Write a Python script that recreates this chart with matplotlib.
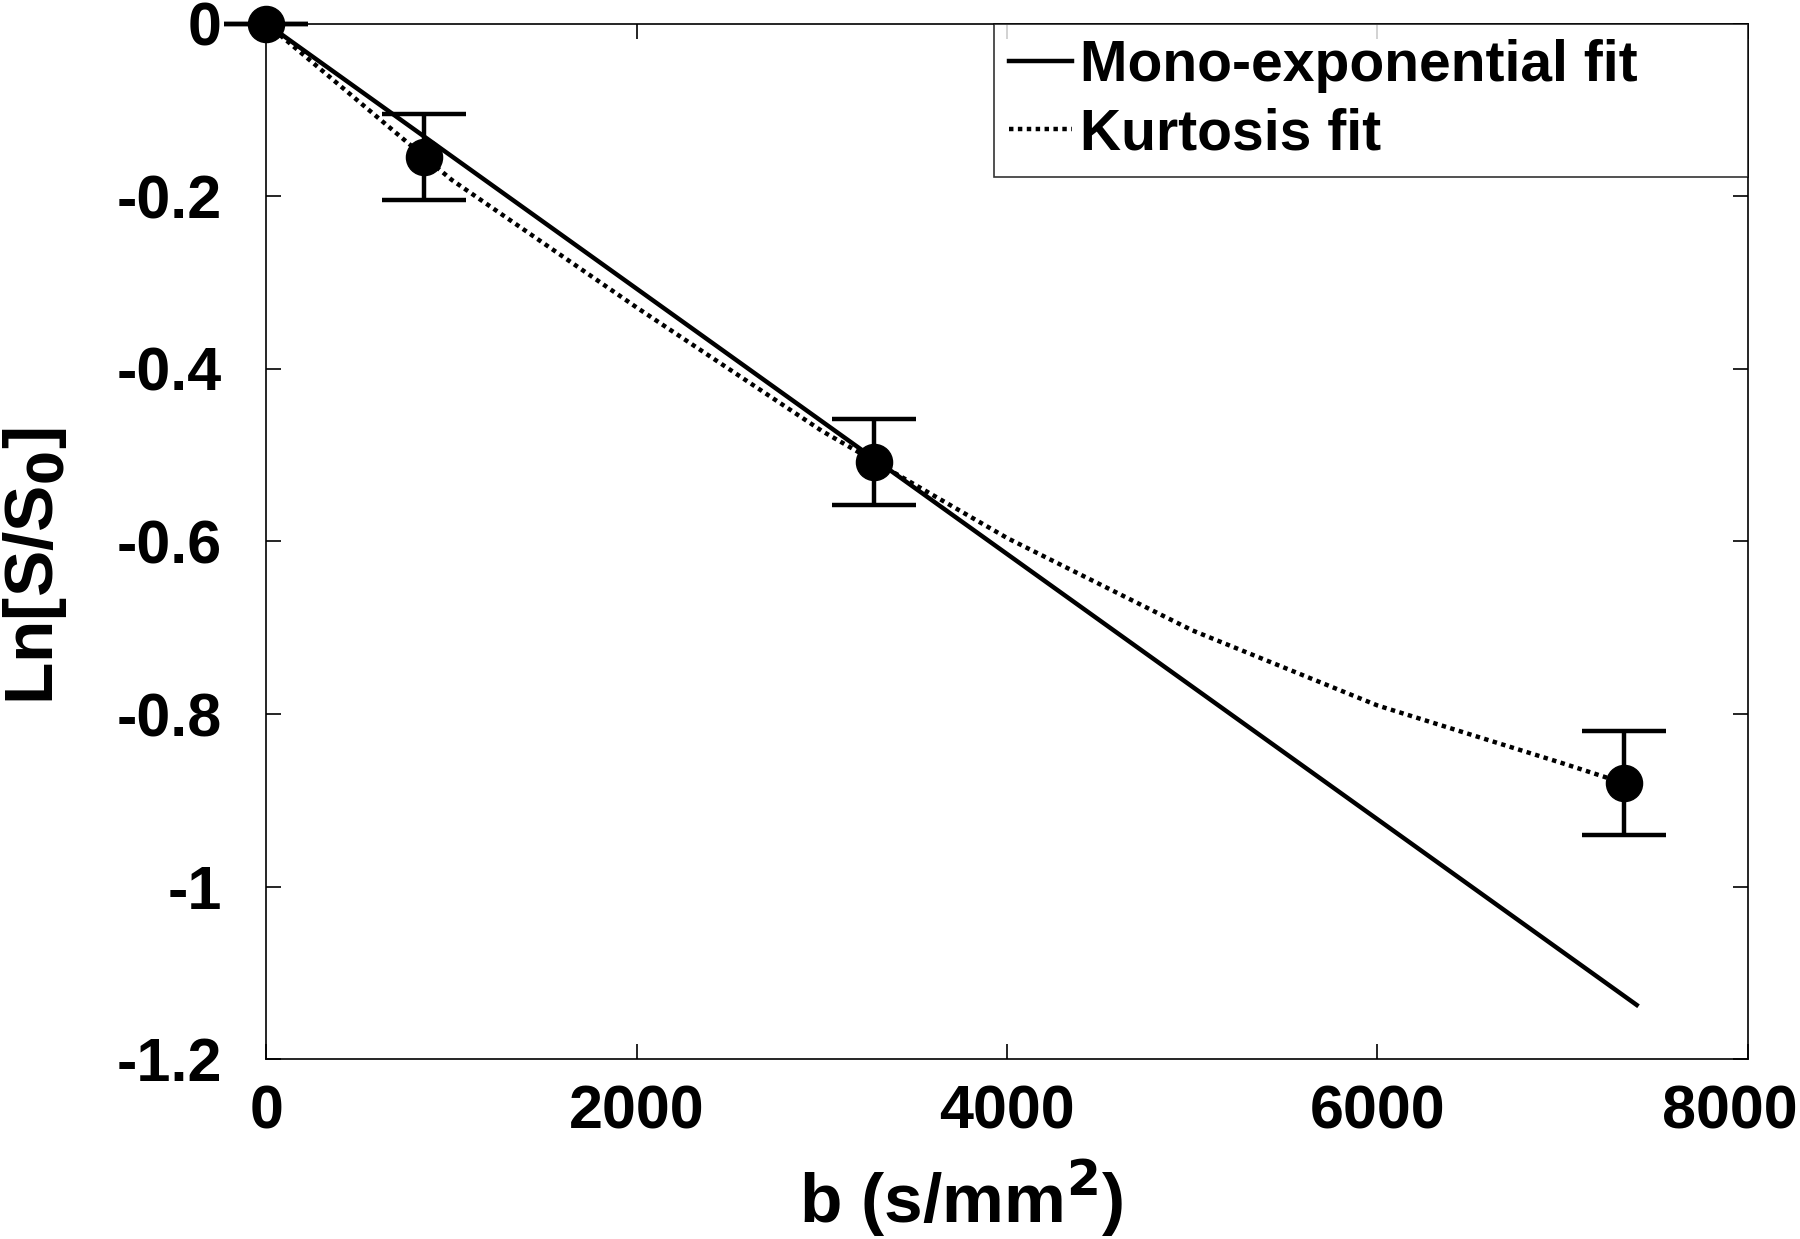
import numpy as np
import matplotlib
matplotlib.use('Agg')
import matplotlib.pyplot as plt
import matplotlib.transforms as mtransforms
from matplotlib.ticker import FixedLocator, FixedFormatter

plt.rcParams['font.family'] = ['Liberation Sans', 'DejaVu Sans']
plt.rcParams['font.weight'] = 'bold'

# measured points
b_vals = [0, 850, 3280, 7330]
ln_vals = [0.0, -0.155, -0.508, -0.880]
ln_err = [0.0, 0.05, 0.05, 0.06]

# mono-exponential fit (straight line)
mono_b = [0, 7400]
mono_y = [0.0, -1.137]

# kurtosis fit curve
kurt_b = [0, 1000, 2000, 3000, 4000, 5000, 6000, 7000, 7330]
kurt_y = [0.0, -0.181, -0.329, -0.472, -0.596, -0.703, -0.790, -0.857, -0.880]

xticks = [0, 2000, 4000, 6000, 8000]
yticks = [0, -0.2, -0.4, -0.6, -0.8, -1, -1.2]
ytick_labels = ['0', '-0.2', '-0.4', '-0.6', '-0.8', '-1', '-1.2']

fig = plt.figure(figsize=(18, 12.39), dpi=100)
ax = fig.add_axes([0.148, 0.145, 0.823, 0.836])

ax.plot(mono_b, mono_y, color='black', lw=3.2, label='Mono-exponential fit')
ax.plot(kurt_b, kurt_y, color='black', lw=3.2, linestyle=(0, (1, 1)), label='Kurtosis fit')
eb = ax.errorbar(b_vals, ln_vals, yerr=ln_err, fmt='o', color='black', ms=26,
                 elinewidth=3.2, capsize=30, capthick=3.2, zorder=5)
for art in eb.lines[0:1] + tuple(eb.lines[1]) + tuple(eb.lines[2]):
    art.set_clip_on(False)

ax.set_xlim(0, 8000)
ax.set_ylim(-1.2, 0)
ax.xaxis.set_major_locator(FixedLocator(xticks))
ax.yaxis.set_major_locator(FixedLocator(yticks))
ax.yaxis.set_major_formatter(FixedFormatter(ytick_labels))
ax.tick_params(direction='in', length=11, width=1.2, labelsize=44,
               top=True, right=True)
ax.tick_params(axis='x', pad=18)
ax.tick_params(axis='y', pad=32)
for lab in ax.get_xticklabels() + ax.get_yticklabels():
    lab.set_fontweight('bold')
for sp in ax.spines.values():
    sp.set_linewidth(1.2)

# keep the last x label inside the figure
fig.canvas.draw()
last = ax.get_xticklabels()[-1]
last.set_transform(last.get_transform() +
                   mtransforms.ScaledTranslation(-18 / 100, 0, fig.dpi_scale_trans))

ax.set_xlabel('b (s/mm$^\\mathbf{2}$)', fontsize=50, fontweight='bold', labelpad=12)
ax.set_ylabel('Ln[S/S$_\\mathbf{0}$]', fontsize=50, fontweight='bold', labelpad=34)
ax.xaxis.label.set_x(0.469)
ax.yaxis.label.set_y(0.476)

leg = ax.legend(loc='upper left', bbox_to_anchor=(0.491, 0, 0.509, 1), mode='expand',
                fontsize=41, frameon=True, fancybox=False,
                edgecolor='black', borderaxespad=0, handlelength=1.1,
                handletextpad=0.15, borderpad=0.27, labelspacing=0.25)
leg.get_frame().set_linewidth(1.2)
for t in leg.get_texts():
    t.set_fontweight('bold')

fig.savefig('out.png', dpi=100)
